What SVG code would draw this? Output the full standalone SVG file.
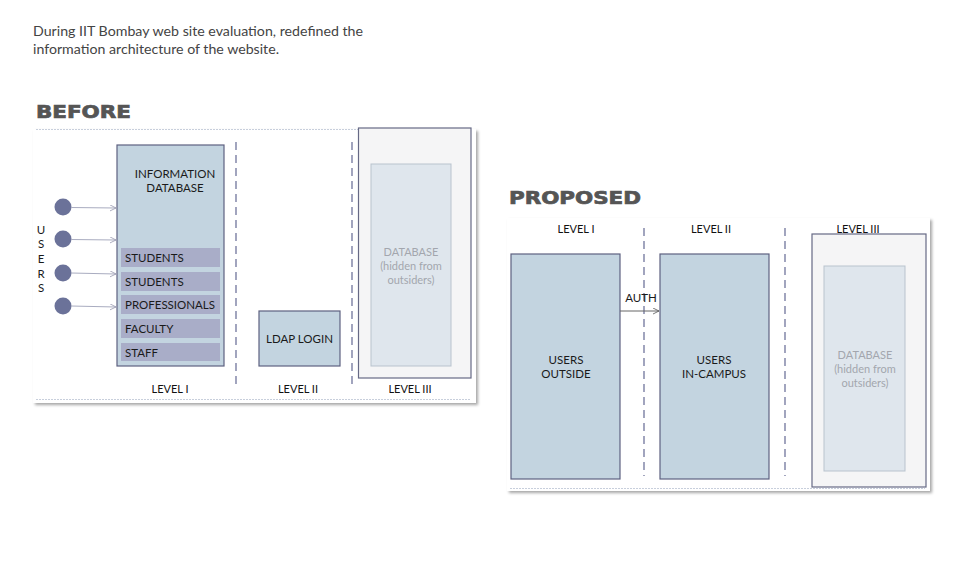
<svg xmlns="http://www.w3.org/2000/svg" width="963" height="568" viewBox="0 0 963 568">
<defs>
<filter id="sh" x="-5%" y="-5%" width="112%" height="115%">
<feDropShadow dx="2" dy="2" stdDeviation="1.8" flood-color="#000" flood-opacity="0.35"/>
</filter>
<marker id="ar" markerWidth="8" markerHeight="8" refX="6" refY="3" orient="auto" markerUnits="userSpaceOnUse">
<path d="M0,0 L6,3 L0,6" fill="none" stroke="#9a9ab0" stroke-width="0.8"/>
</marker>
<marker id="ar2" markerWidth="8" markerHeight="8" refX="6" refY="3" orient="auto" markerUnits="userSpaceOnUse">
<path d="M0,0 L6,3 L0,6" fill="none" stroke="#555" stroke-width="0.8"/>
</marker>
</defs>
<style>
text{font-family:Lato,"Open Sans","Liberation Sans",sans-serif;}
.intro{font-size:14px;fill:#444;font-family:Lato,"Open Sans","Liberation Sans",sans-serif;}
.title{font-family:"DejaVu Sans","Liberation Sans",sans-serif;font-weight:900;font-size:17px;fill:#555;stroke:#555;stroke-width:0.7;}
.panel{fill:#fff;filter:url(#sh);}
.dotline{stroke:#c8cfdc;stroke-width:1;stroke-dasharray:2,1;}
.box{fill:#c3d4e0;stroke:#5e6180;stroke-width:1.2;}
.bar{fill:#a9adc8;}
.lbl{font-size:11.5px;fill:#1a1a1a;}
.ctr{text-anchor:middle;}
.lvl{font-size:11px;fill:#111;text-anchor:middle;}
.dash{stroke:#7b7fa3;stroke-width:1.4;stroke-dasharray:8,5;}
.l3{fill:#f5f5f6;stroke:#666985;stroke-width:1.2;}
.db{fill:#dfe6ed;stroke:#b9c3cd;stroke-width:1;}
.dbt{font-size:11px;fill:#a3a6ae;text-anchor:middle;}
.user{fill:#6b7299;}
.conn{stroke:#a9acc0;stroke-width:1;fill:none;}
.conn2{stroke:#666;stroke-width:1;fill:none;}
</style>
<rect width="963" height="568" fill="#fff"/>
<text class="intro" x="33" y="36" textLength="330" lengthAdjust="spacingAndGlyphs">During IIT Bombay web site evaluation, redefined the</text>
<text class="intro" x="33" y="54" textLength="246" lengthAdjust="spacingAndGlyphs">information architecture of the website.</text>
<text class="title" x="36" y="118" textLength="95" lengthAdjust="spacingAndGlyphs">BEFORE</text>
<text class="title" x="509" y="204" textLength="132" lengthAdjust="spacingAndGlyphs">PROPOSED</text>

<g id="before-panel">
<rect class="panel" x="33" y="129" width="443" height="274"/>
<line class="dotline" x1="36" y1="129.5" x2="470" y2="129.5"/>
<line class="dotline" x1="36" y1="399.5" x2="470" y2="399.5"/>
<line class="dash" x1="236" y1="142" x2="236" y2="386"/>
<line class="dash" x1="352" y1="142" x2="352" y2="386"/>
</g>

<g id="users-label">
<text class="lbl ctr" x="41" y="234">U</text>
<text class="lbl ctr" x="41" y="248">S</text>
<text class="lbl ctr" x="41" y="263">E</text>
<text class="lbl ctr" x="41" y="278">R</text>
<text class="lbl ctr" x="41" y="292">S</text>
</g>
<g id="user1"><circle class="user" cx="63" cy="207" r="8.5"/></g>
<g id="user2"><circle class="user" cx="63" cy="239" r="8.5"/></g>
<g id="user3"><circle class="user" cx="63" cy="273" r="8.5"/></g>
<g id="user4"><circle class="user" cx="63" cy="306" r="8.5"/></g>

<g id="info-db">
<rect class="box" x="117" y="145" width="107" height="221"/>
<text class="lbl ctr" x="175" y="178">INFORMATION</text>
<text class="lbl ctr" x="175" y="192">DATABASE</text>
<rect class="bar" x="121" y="248" width="99" height="19"/>
<text class="lbl" x="125" y="262">STUDENTS</text>
<rect class="bar" x="121" y="272" width="99" height="19"/>
<text class="lbl" x="125" y="286">STUDENTS</text>
<rect class="bar" x="121" y="295" width="99" height="19"/>
<text class="lbl" x="125" y="309">PROFESSIONALS</text>
<rect class="bar" x="121" y="319" width="99" height="19"/>
<text class="lbl" x="125" y="333">FACULTY</text>
<rect class="bar" x="121" y="343" width="99" height="18"/>
<text class="lbl" x="125" y="357">STAFF</text>
</g>

<g id="ldap">
<rect class="box" x="259" y="311" width="81" height="55"/>
<text class="lbl ctr" x="299.5" y="343">LDAP LOGIN</text>
</g>

<g id="before-l3">
<rect class="l3" x="358.5" y="128" width="112.5" height="250"/>
<rect class="db" x="371" y="164" width="80" height="202"/>
<text class="dbt" x="411" y="256">DATABASE</text>
<text class="dbt" x="411" y="270">(hidden from</text>
<text class="dbt" x="411" y="284">outsiders)</text>
</g>

<g id="before-levels">
<text class="lvl" x="170" y="393">LEVEL I</text>
<text class="lvl" x="298" y="393">LEVEL II</text>
<text class="lvl" x="410" y="393">LEVEL III</text>
</g>

<g id="proposed-panel">
<rect class="panel" x="507" y="218" width="423" height="273"/>
<line class="dotline" x1="510" y1="488.5" x2="925" y2="488.5"/>
<line class="dash" x1="644" y1="228" x2="644" y2="476"/>
<line class="dash" x1="785" y1="228" x2="785" y2="476"/>
</g>

<g id="proposed-levels">
<text class="lvl" x="576" y="233">LEVEL I</text>
<text class="lvl" x="711" y="233">LEVEL II</text>
<text class="lvl" x="858" y="233">LEVEL III</text>
</g>

<g id="users-outside">
<rect class="box" x="511" y="254" width="109" height="225"/>
<text class="lbl ctr" x="566" y="364">USERS</text>
<text class="lbl ctr" x="566" y="378">OUTSIDE</text>
</g>

<g id="users-incampus">
<rect class="box" x="660" y="254" width="109" height="225"/>
<text class="lbl ctr" x="714" y="364">USERS</text>
<text class="lbl ctr" x="714" y="378">IN-CAMPUS</text>
</g>

<g id="proposed-l3">
<rect class="l3" x="812" y="234" width="114" height="253"/>
<rect class="db" x="824" y="266" width="81" height="205"/>
<text class="dbt" x="865" y="359">DATABASE</text>
<text class="dbt" x="865" y="373">(hidden from</text>
<text class="dbt" x="865" y="387">outsiders)</text>
</g>

<g id="connectors">
<line class="conn" x1="71" y1="207.5" x2="116" y2="208" marker-end="url(#ar)"/>
<line class="conn" x1="71" y1="239.5" x2="116" y2="240" marker-end="url(#ar)"/>
<line class="conn" x1="71" y1="273" x2="116" y2="274" marker-end="url(#ar)"/>
<line class="conn" x1="71" y1="306" x2="116" y2="307" marker-end="url(#ar)"/>
<line class="conn2" x1="620" y1="311" x2="659" y2="311" marker-end="url(#ar2)"/>
<text class="lbl ctr" x="641" y="302">AUTH</text>
</g>
</svg>
